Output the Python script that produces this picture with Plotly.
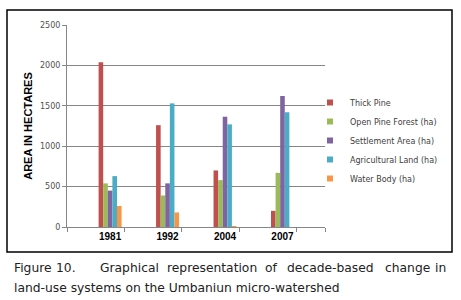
import plotly.graph_objects as go

years = ["1981", "1992", "2004", "2007"]
series_names = ["Thick Pine", "Open Pine Forest (ha)", "Settlement Area (ha)",
                "Agricultural Land (ha)", "Water Body (ha)"]
thick_pine = [2040, 1260, 700, 200]
open_pine_forest = [540, 390, 580, 670]
settlement_area = [450, 540, 1365, 1620]
agricultural_land = [630, 1530, 1270, 1420]
water_body = [260, 180, 8, 0]
series_values = [thick_pine, open_pine_forest, settlement_area, agricultural_land, water_body]
colors = ["#C0504D", "#9BBB59", "#8064A2", "#4BACC6", "#F79646"]

caption_line1 = ["Figure", "10.", "Graphical", "representation", "of", "decade-based", "change", "in"]
caption_line2 = "land-use systems on the Umbaniun micro-watershed"

W, H = 461, 300
L, R, T, B = 67, 136, 25, 73
pw, ph = W - L - R, H - T - B

def px_x(p):
    return (p - L) / pw

def px_y(p):
    return (H - B - p) / ph

x = list(range(len(years)))
fig = go.Figure()
for name, vals, c in zip(series_names, series_values, colors):
    fig.add_trace(go.Bar(x=x, y=vals, name=name, marker=dict(color=c, line=dict(width=0)),
                         showlegend=False))
for name, c in zip(series_names, colors):
    fig.add_trace(go.Scatter(x=[None], y=[None], mode="markers", name=name,
                             marker=dict(symbol="square", size=6, color=c)))

axis_col = "#868686"
fig.update_layout(
    width=W, height=H, margin=dict(l=L, r=R, t=T, b=B, autoexpand=False),
    paper_bgcolor="white", plot_bgcolor="white",
    barmode="group", bargap=0.6, bargroupgap=0,
    font=dict(family="Liberation Sans", color="#404040"),
    xaxis=dict(range=[-0.75, 3.74], tickvals=x, ticktext=years, ticks="", showgrid=False,
               showline=True, linecolor=axis_col, linewidth=1, zeroline=False, automargin=False,
               tickfont=dict(family="Liberation Sans", size=10, color="black", weight="bold"),
               minor=dict(tickvals=[-0.75, 0.25, 1.25, 2.25, 3.25, 3.74], ticks="outside",
                          ticklen=4, tickcolor=axis_col, showgrid=False)),
    yaxis=dict(range=[0, 2500], dtick=500, showgrid=True, gridcolor=axis_col, gridwidth=1,
               showline=True, linecolor=axis_col, linewidth=1, ticks="outside", ticklen=4,
               tickcolor=axis_col, zeroline=False, automargin=False,
               tickfont=dict(family="DejaVu Sans", size=8, color="#505050"),
               title=dict(text="AREA IN HECTARES", standoff=5,
                          font=dict(family="Liberation Sans", size=11, color="black", weight="bold"))),
    legend=dict(x=px_x(310), y=px_y(88), xanchor="left", yanchor="top",
                font=dict(family="DejaVu Sans", size=8, color="#404040"),
                tracegroupgap=0, bgcolor="rgba(0,0,0,0)"),
    shapes=[dict(type="rect", xref="paper", yref="paper",
                 x0=px_x(7), x1=px_x(452), y0=px_y(252), y1=px_y(10),
                 line=dict(color="black", width=1.5))],
)

word_x = [12, 54, 98, 165, 263, 285, 383, 433]
for w, xp in zip(caption_line1, word_x):
    fig.add_annotation(text=w, x=px_x(xp), y=px_y(268), xref="paper", yref="paper",
                       xanchor="left", yanchor="middle", showarrow=False,
                       font=dict(family="DejaVu Sans", size=12.3, color="#222222"))
fig.add_annotation(text=caption_line2, x=px_x(12), y=px_y(288), xref="paper", yref="paper",
                   xanchor="left", yanchor="middle", showarrow=False,
                   font=dict(family="DejaVu Sans", size=12.3, color="#222222"))

fig.write_html("out.html", config={"displayModeBar": False},
               post_script="document.body.style.margin='0';")
